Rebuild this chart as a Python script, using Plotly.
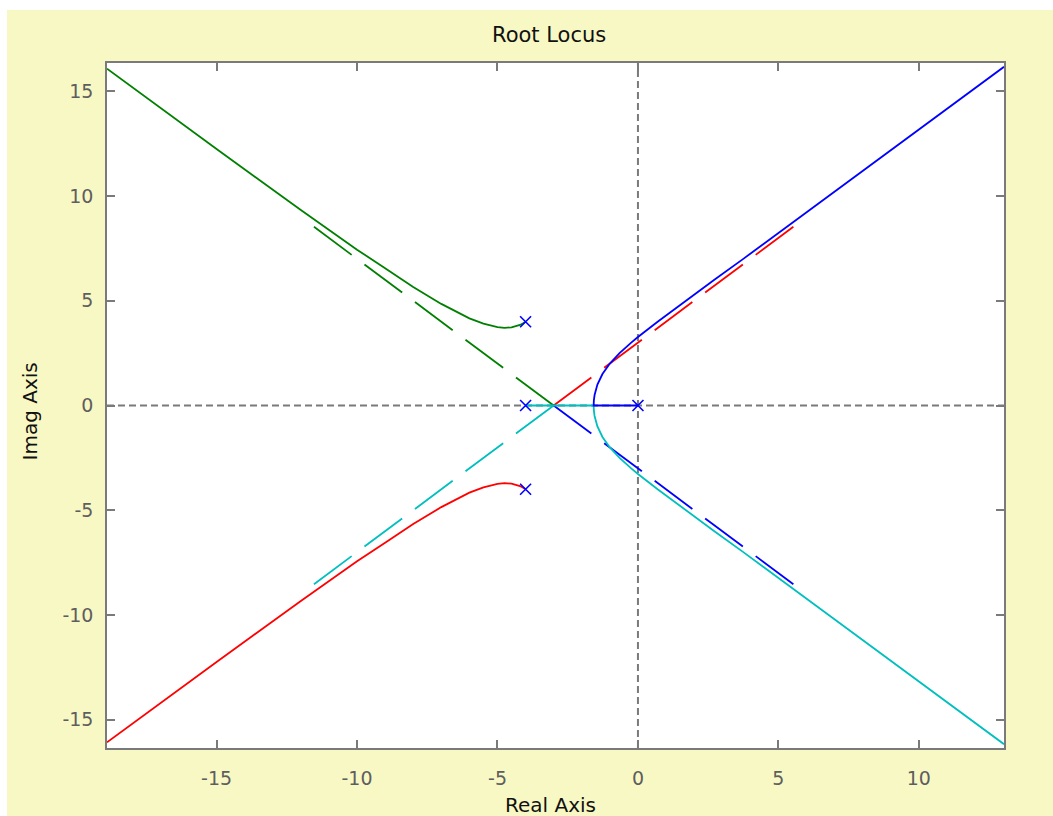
import plotly.graph_objects as go

# ---- data ----
# open-loop poles (blue x markers)
pole_re = [-4.0, -4.0, -4.0, 0.0]
pole_im = [4.0, 0.0, -4.0, 0.0]

# branch starting at pole 0 (blue): along real axis to breakaway, then upper right
blue_re = [0.0, -1.577, -1.569, -1.544, -1.443, -1.264, -1.0, -0.655, -0.24, 0.0,
           0.70, 1.70, 2.72, 3.75, 4.76, 5.78, 6.80, 7.82, 8.83, 9.84, 10.85, 11.86, 13.03]
blue_im = [0.0, 0.0, 0.25, 0.5, 1.0, 1.5, 2.0, 2.5, 3.0, 3.27,
           4.0, 5.0, 6.0, 7.0, 8.0, 9.0, 10.0, 11.0, 12.0, 13.0, 14.0, 15.0, 16.17]

# branch starting at pole -4 (cyan): along real axis to breakaway, then lower right
cyan_re = [-4.0, -1.577, -1.569, -1.544, -1.443, -1.264, -1.0, -0.655, -0.24, 0.0,
           0.70, 1.70, 2.72, 3.75, 4.76, 5.78, 6.80, 7.82, 8.83, 9.84, 10.85, 11.86, 13.03]
cyan_im = [0.0, 0.0, -0.25, -0.5, -1.0, -1.5, -2.0, -2.5, -3.0, -3.27,
           -4.0, -5.0, -6.0, -7.0, -8.0, -9.0, -10.0, -11.0, -12.0, -13.0, -14.0, -15.0, -16.17]

# branch starting at pole -4+4j (green)
green_re = [-4.0, -4.05, -4.1, -4.2, -4.5, -4.75, -5.0, -5.5, -6.0, -7.0, -8.0, -9.0,
            -10.0, -12.0, -15.0, -18.9]
green_im = [4.0, 3.95, 3.915, 3.845, 3.73, 3.71, 3.74, 3.905, 4.16, 4.85, 5.66, 6.55,
            7.44, 9.33, 12.24, 16.08]

# branch starting at pole -4-4j (red)
red_re = [-4.0, -4.05, -4.1, -4.2, -4.5, -4.75, -5.0, -5.5, -6.0, -7.0, -8.0, -9.0,
          -10.0, -12.0, -15.0, -18.9]
red_im = [-4.0, -3.95, -3.915, -3.845, -3.73, -3.71, -3.74, -3.905, -4.16, -4.85, -5.66, -6.55,
          -7.44, -9.33, -12.24, -16.08]

# dashed asymptotes from the centroid (-3, 0)
asym_green_re = [-3.0, -11.55]
asym_green_im = [0.0, 8.55]
asym_cyan_re = [-3.0, -11.55]
asym_cyan_im = [0.0, -8.55]
asym_red_re = [-3.0, 5.63]
asym_red_im = [0.0, 8.63]
asym_blue_re = [-3.0, 5.63]
asym_blue_im = [0.0, -8.63]

x_ticks = [-15, -10, -5, 0, 5, 10]
x_ticktext = ["-15", "-10", "-5", "0", "5", "10"]
y_ticks = [-15, -10, -5, 0, 5, 10, 15]
y_ticktext = ["-15", "-10", "-5", "0", "5", "10", "15"]
x_range = [-18.9, 13.03]
y_range = [-16.35, 16.35]

# ---- styling ----
GREEN = "#008000"
RED = "#FF0000"
BLUE = "#0000FF"
CYAN = "#00BFBF"
YELLOW = "#F8F8C4"
AXGRAY = "#7a7a7a"
TXTGRAY = "#5e5e5e"
FONT = "DejaVu Sans"

fig = go.Figure()

dash_pat = "47px,16px"
for xs, ys, col in [(asym_green_re, asym_green_im, GREEN),
                    (asym_cyan_re, asym_cyan_im, CYAN),
                    (asym_red_re, asym_red_im, RED),
                    (asym_blue_re, asym_blue_im, BLUE)]:
    fig.add_trace(go.Scatter(x=xs, y=ys, mode="lines",
                             line=dict(color=col, width=1.8, dash=dash_pat),
                             hoverinfo="skip", showlegend=False))

for xs, ys, col in [(green_re, green_im, GREEN),
                    (red_re, red_im, RED),
                    (cyan_re, cyan_im, CYAN),
                    (blue_re, blue_im, BLUE)]:
    fig.add_trace(go.Scatter(x=xs, y=ys, mode="lines",
                             line=dict(color=col, width=1.8),
                             showlegend=False))

fig.add_trace(go.Scatter(x=pole_re, y=pole_im, mode="markers",
                         marker=dict(symbol="x-thin", size=11,
                                     line=dict(color=BLUE, width=1.6)),
                         showlegend=False))

# dashed zero lines
fig.add_shape(type="line", xref="paper", yref="y", x0=0, x1=1, y0=0, y1=0,
              line=dict(color=AXGRAY, width=2, dash="7px,4px"), layer="below")
fig.add_shape(type="line", xref="x", yref="paper", x0=0, x1=0, y0=0, y1=1,
              line=dict(color=AXGRAY, width=2, dash="7px,4px"), layer="below")

# white page border strips (left and top) outside the yellow figure area
fig.add_shape(type="rect", xref="paper", yref="paper", x0=-0.2, x1=(7 - 107) / 897,
              y0=-0.2, y1=1.2, fillcolor="white", line=dict(width=0), layer="below")
fig.add_shape(type="rect", xref="paper", yref="paper", x0=-0.2, x1=1.2,
              y0=(748 - 10) / 685, y1=1.2, fillcolor="white", line=dict(width=0), layer="below")

axis_common = dict(showgrid=False, zeroline=False, showline=True, linecolor=AXGRAY,
                   linewidth=1.5, mirror="ticks", ticks="inside", ticklen=8,
                   tickwidth=1.5, tickcolor=AXGRAY,
                   tickfont=dict(family=FONT, size=19, color=TXTGRAY))

fig.update_xaxes(range=x_range, tickvals=x_ticks, ticktext=x_ticktext,
                 ticklabelstandoff=12, **axis_common)
fig.update_yaxes(range=y_range, tickvals=y_ticks, ticktext=y_ticktext,
                 ticklabelstandoff=8, **axis_common)

fig.add_annotation(text="Root Locus", xref="paper", yref="paper", x=0.4928, y=1.0416,
                   xanchor="center", yanchor="middle", showarrow=False,
                   font=dict(family=FONT, size=21, color="#111111"))
fig.add_annotation(text="Real Axis", xref="paper", yref="paper", x=0.4939, y=-0.0839,
                   xanchor="center", yanchor="middle", showarrow=False,
                   font=dict(family=FONT, size=20, color="#111111"))
fig.add_annotation(text="Imag Axis", xref="paper", yref="paper", x=-0.0864, y=0.492,
                   xanchor="center", yanchor="middle", showarrow=False, textangle=-90,
                   font=dict(family=FONT, size=20, color="#111111"))

fig.update_layout(width=1053, height=816,
                  margin=dict(l=107, r=49, t=63, b=68, pad=0),
                  paper_bgcolor=YELLOW, plot_bgcolor="white",
                  showlegend=False, hovermode=False)

fig.write_html("out.html", config={"displayModeBar": False},
               post_script="document.body.style.margin='0';document.body.style.overflow='hidden';")
